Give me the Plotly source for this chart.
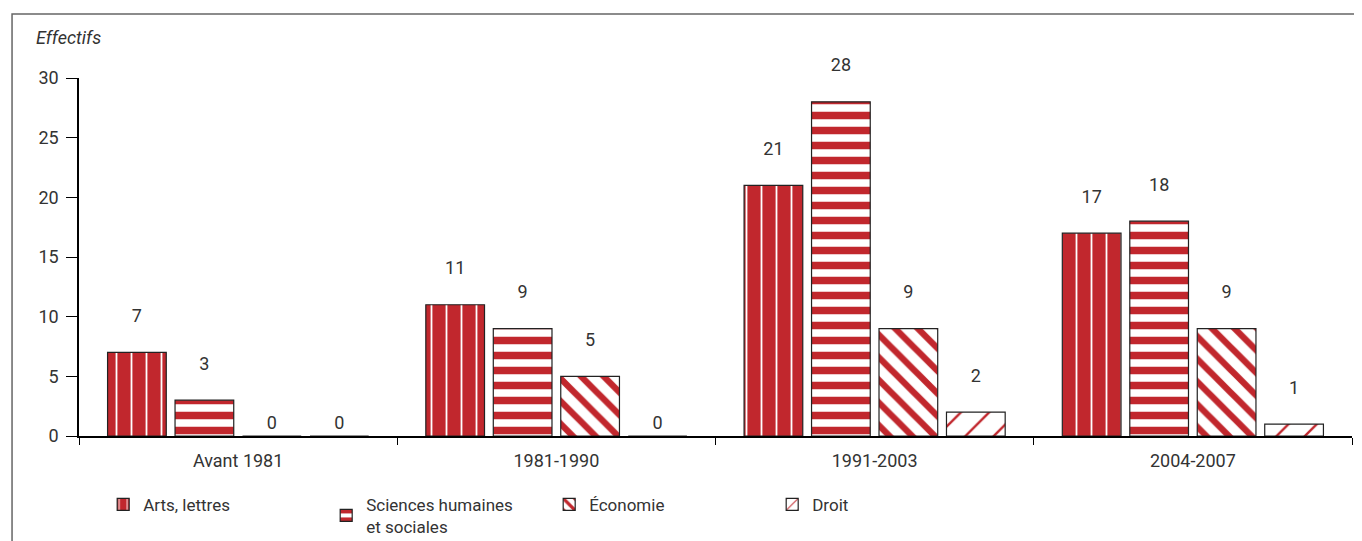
import plotly.graph_objects as go

categories = ["Avant 1981", "1981-1990", "1991-2003", "2004-2007"]
arts = [7, 11, 21, 17]
sciences = [3, 9, 28, 18]
economie = [0, 5, 9, 9]
droit = [0, 0, 2, 1]

RED = "#C1272D"
FONT = "Roboto, Liberation Sans, sans-serif"


def labels(values):
    # extra empty line lifts the label above the bar like in the original
    return [f"{v}<br>\u00a0" if v else f"{v}" for v in values]


series = [
    ("Arts, lettres", arts, dict(shape="|", bgcolor=RED, fgcolor="white", size=15, solidity=0.12)),
    ("Sciences humaines<br>et sociales", sciences, dict(shape="-", bgcolor="white", fgcolor=RED, size=15, solidity=0.5)),
    ("Économie", economie, dict(shape="\\", bgcolor="white", fgcolor=RED, size=16, solidity=0.4)),
    ("Droit", droit, dict(shape="/", bgcolor="white", fgcolor=RED, size=20, solidity=0.12)),
]

fig = go.Figure()
for name, vals, pat in series:
    fig.add_trace(go.Bar(x=categories, y=vals, name=name,
                         text=labels(vals), textposition="outside",
                         textfont=dict(family=FONT, size=18, color="#333"),
                         constraintext="none", cliponaxis=False,
                         marker=dict(color=pat["bgcolor"], pattern=dict(pat, fgopacity=1),
                                     line=dict(color="#222", width=1.2))))

# the page body adds 8px around the figure, margins are set to compensate
fig.update_layout(width=1362, height=541, barmode="group", bargap=0.152, bargroupgap=0.13,
                  plot_bgcolor="white", paper_bgcolor="white",
                  margin=dict(l=71, r=18, t=70, b=113, autoexpand=False),
                  font=dict(family=FONT, size=18, color="#333"),
                  showlegend=True,
                  legend=dict(orientation="h", x=0.019, y=-0.142, yanchor="top",
                              font=dict(family=FONT, size=17, color="#333"),
                              entrywidth=178, traceorder="normal"))

fig.update_xaxes(showline=True, linecolor="black", linewidth=1.5, ticks="outside",
                 tickson="boundaries", ticklen=7, tickcolor="black", showgrid=False,
                 ticklabelstandoff=8)
fig.update_yaxes(range=[0, 30], dtick=5, showline=True, linecolor="black", linewidth=1.5,
                 ticks="outside", ticklen=11, tickcolor="black", showgrid=False, zeroline=False,
                 ticklabelstandoff=4)

fig.add_annotation(text="<i>Effectifs</i>", xref="paper", yref="paper", x=-0.0354, y=1.112,
                   xanchor="left", yanchor="middle", showarrow=False,
                   font=dict(family=FONT, size=18, color="#333"))

# outer frame of the figure
fig.add_shape(type="rect", xref="paper", yref="paper", x0=-0.0526, x1=1.3, y0=-0.6, y1=1.1788,
              line=dict(color="#666", width=1.5), layer="below")

fig.write_html("out.html")
